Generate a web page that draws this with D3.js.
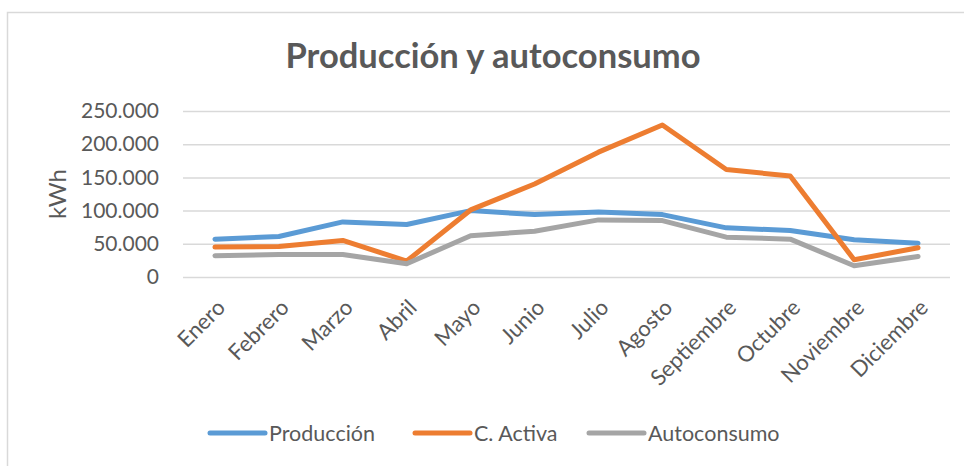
<!DOCTYPE html>
<html>
<head>
<meta charset="utf-8">
<script src="https://cdn.jsdelivr.net/npm/d3@7"></script>
<style>
  html, body { margin: 0; padding: 0; background: #fff; }
  svg { display: block; }
  text { font-family: Lato, "Open Sans", sans-serif; fill: #595959; }
</style>
</head>
<body>
<svg id="chart" width="964" height="466"></svg>
<script>
// Monthly energy figures (kWh)
const months = ["Enero", "Febrero", "Marzo", "Abril", "Mayo", "Junio", "Julio",
                "Agosto", "Septiembre", "Octubre", "Noviembre", "Diciembre"];
const produccion  = [57000, 61000, 83000, 79000, 100000, 94000, 98000, 94000, 74000, 70000, 56000, 51000];
const cActiva     = [45000, 46000, 55000, 24000, 101000, 140000, 188000, 229000, 162000, 152000, 26000, 44000];
const autoconsumo = [32000, 34000, 34000, 20000, 62000, 69000, 86000, 85000, 60000, 57000, 17000, 31000];
const yTicks = [0, 50000, 100000, 150000, 200000, 250000];
const seriesNames  = ["Producción", "C. Activa", "Autoconsumo"];
const seriesColors = ["#5B9BD5", "#ED7D31", "#A5A5A5"];

const series = [produccion, cActiva, autoconsumo].map((values, i) => ({
  name: seriesNames[i], color: seriesColors[i], values
}));

const svg = d3.select("#chart");
const locale = d3.formatLocale({ decimal: ",", thousands: ".", grouping: [3], currency: ["", ""] });
const fmt = locale.format(",d");

const x = d3.scalePoint().domain(months).range([183, 950]).padding(0.5);
const y = d3.scaleLinear().domain([0, 250000]).range([277, 111]);

// Outer frame
svg.append("path")
  .attr("d", "M7.5,466 V12.5 H964")
  .attr("fill", "none").attr("stroke", "#D9D9D9").attr("stroke-width", 1.5);

// Title
svg.append("text")
  .attr("x", 493).attr("y", 68)
  .attr("text-anchor", "middle")
  .attr("font-size", 34.5).attr("font-weight", 700)
  .text("Producción y autoconsumo");

// Gridlines and y tick labels
const yAxis = d3.axisLeft(y).tickValues(yTicks).tickFormat(fmt)
  .tickSize(-(950 - 183)).tickPadding(24);
const gy = svg.append("g").attr("transform", "translate(183,0)").call(yAxis);
gy.select(".domain").remove();
gy.selectAll(".tick line").attr("stroke", "#D9D9D9").attr("stroke-width", 1.5);
gy.selectAll(".tick text").attr("font-size", 21).attr("fill", "#595959")
  .style("font-family", "Lato, 'Open Sans', sans-serif");

// Y axis title
svg.append("text")
  .attr("transform", "translate(66,194) rotate(-90)")
  .attr("text-anchor", "middle")
  .attr("font-size", 24)
  .text("kWh");

// Category labels, slanted
const xAxis = d3.axisBottom(x).tickSize(0).tickPadding(0);
const gx = svg.append("g").attr("transform", "translate(0,277)").call(xAxis);
gx.select(".domain").remove();
gx.selectAll(".tick text")
  .attr("font-size", 22).attr("fill", "#595959")
  .style("font-family", "Lato, 'Open Sans', sans-serif")
  .attr("text-anchor", "end")
  .attr("y", 0).attr("dy", 0)
  .attr("transform", "translate(11,32) rotate(-45)");

// Series lines
const line = d3.line().x((d, i) => x(months[i])).y(d => y(d));
svg.append("g").selectAll("path")
  .data(series)
  .join("path")
  .attr("d", d => line(d.values))
  .attr("fill", "none")
  .attr("stroke", d => d.color)
  .attr("stroke-width", 5)
  .attr("stroke-linejoin", "round")
  .attr("stroke-linecap", "round");

// Legend
const legendX = [210, 415, 589];
const lg = svg.append("g").selectAll("g")
  .data(series)
  .join("g")
  .attr("transform", (d, i) => `translate(${legendX[i]},433)`);
lg.append("line")
  .attr("x1", 0).attr("x2", 55)
  .attr("stroke", d => d.color).attr("stroke-width", 5).attr("stroke-linecap", "round");
lg.append("text")
  .attr("x", 59).attr("dy", "0.35em")
  .attr("font-size", 21.5)
  .text(d => d.name);
</script>
</body>
</html>
